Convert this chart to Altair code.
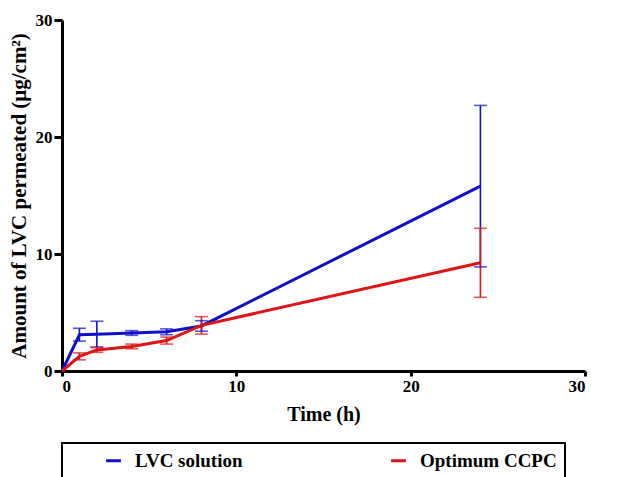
import altair as alt
import pandas as pd

time_h = [0, 1, 2, 4, 6, 8, 24]
lvc_mean = [0, 3.1, 3.15, 3.25, 3.35, 3.85, 15.8]
lvc_sd = [0, 0.55, 1.1, 0.2, 0.25, 0.45, 6.9]
ccpc_mean = [0, 1.25, 1.8, 2.1, 2.6, 3.9, 9.25]
ccpc_sd = [0, 0.3, 0.2, 0.2, 0.3, 0.75, 2.95]

series_names = ["LVC solution", "Optimum CCPC"]
series_colors = ["#1010cc", "#dd1515"]

rows = []
for name, means, sds in [(series_names[0], lvc_mean, lvc_sd), (series_names[1], ccpc_mean, ccpc_sd)]:
    for t, m, s in zip(time_h, means, sds):
        rows.append({"series": name, "time": t, "mean": m, "lo": m - s, "hi": m + s, "has_err": s > 0})
df = pd.DataFrame(rows)

font = "Liberation Serif"

x_enc = alt.X("time:Q", title="Time (h)", scale=alt.Scale(domain=[0, 30], nice=False),
              axis=alt.Axis(values=[0, 10, 20, 30], grid=False, titleFontSize=20, tickSize=5))
color_enc = alt.Color("series:N", scale=alt.Scale(domain=series_names, range=series_colors),
                      legend=alt.Legend(orient="none", legendX=0, legendY=423, direction="horizontal",
                                        columns=2, columnPadding=142, title=" ", titleOrient="left",
                                        titlePadding=34, symbolType="stroke", symbolStrokeWidth=3,
                                        symbolSize=220, labelFontSize=19, labelFont=font,
                                        labelFontWeight="bold", labelColor="black", labelOffset=12,
                                        strokeColor="black", padding=8, labelLimit=400))

base = alt.Chart(df)

lines = base.mark_line(strokeWidth=3).encode(
    x=x_enc,
    y=alt.Y("mean:Q", title="Amount of LVC permeated (μg/cm²)",
            scale=alt.Scale(domain=[0, 30], nice=False),
            axis=alt.Axis(values=[0, 10, 20, 30], grid=False, titleFontSize=21, tickSize=8)),
    color=color_enc,
    order=alt.Order("time:Q"),
    detail="series:N",
)

err = base.transform_filter("datum.has_err")
rules = err.mark_rule(strokeWidth=1.6).encode(
    x="time:Q", y="lo:Q", y2="hi:Q", color=alt.Color("series:N", legend=None))
cap_lo = err.mark_tick(orient="horizontal", size=13, thickness=1.6).encode(
    x="time:Q", y="lo:Q", color=alt.Color("series:N", legend=None))
cap_hi = err.mark_tick(orient="horizontal", size=13, thickness=1.6).encode(
    x="time:Q", y="hi:Q", color=alt.Color("series:N", legend=None))

chart = alt.layer(lines, rules, cap_lo, cap_hi).properties(
    width=523, height=351,
    autosize=alt.AutoSizeParams(type="none"),
    padding={"left": 54, "top": 12, "right": 39, "bottom": 125},
).configure(font=font).configure_view(stroke=None).configure_axis(
    domainColor="black", domainWidth=3, tickColor="black", tickWidth=3,
    labelFont=font, labelFontSize=17, labelFontWeight="bold", labelColor="black",
    titleFont=font, titleFontWeight="bold", titleColor="black",
    labelPadding=2,
).configure_axisY(titlePadding=6).configure_axisX(titlePadding=10).configure_legend(
    labelFont=font, titleFont=font, strokeWidth=2
)

chart.save("out.html", embed_options={"renderer": "svg", "actions": False})
